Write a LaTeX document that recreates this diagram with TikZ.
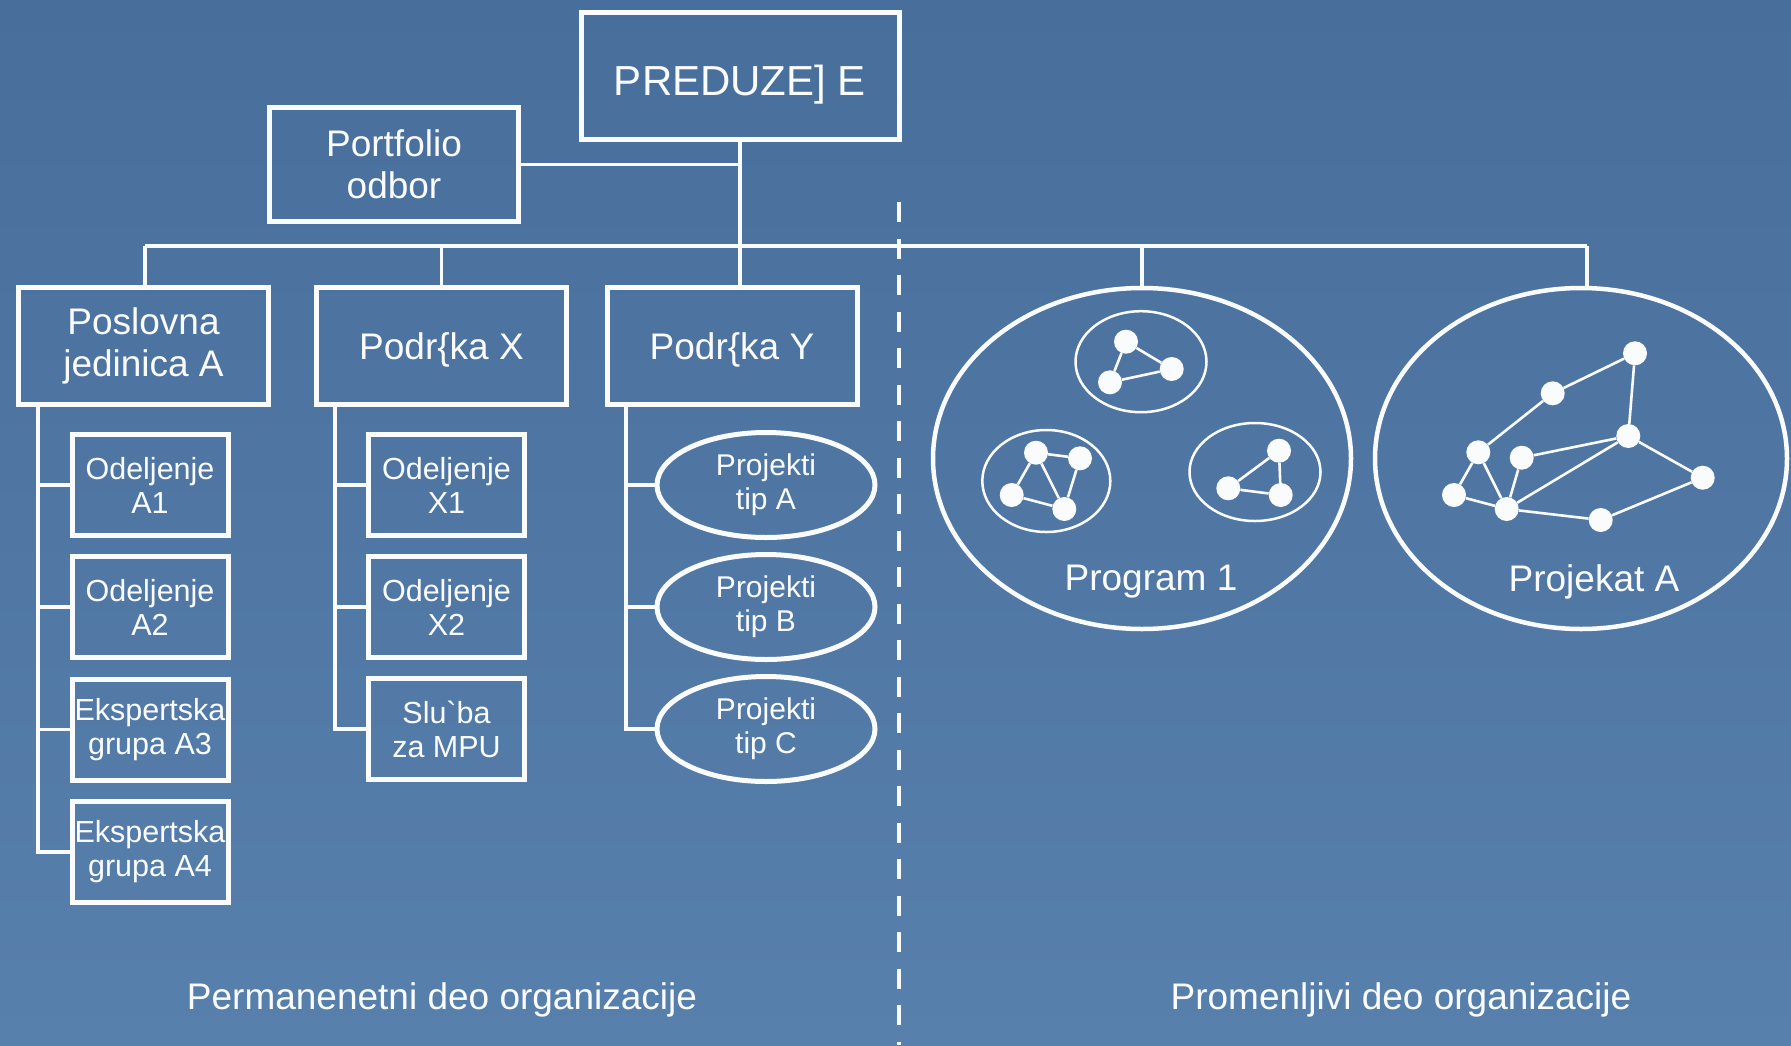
\documentclass[tikz,border=0pt]{standalone}
\usepackage{fontspec}
\setmainfont{Liberation Sans}
\usetikzlibrary{shapes.geometric}
\definecolor{bgtop}{RGB}{72,110,155}
\definecolor{bgbot}{RGB}{88,128,172}
\definecolor{ink}{RGB}{250,251,252}

\begin{document}
\begin{tikzpicture}[x=1pt,y=-1pt,
  every node/.style={text=ink, inner sep=0pt, align=center},
  box/.style={draw=ink, line width=5pt, rectangle},
  topbox/.style={box, minimum width=318pt, minimum height=127pt, font=\fontsize{42}{48}\selectfont},
  unitbox/.style={box, minimum width=250pt, minimum height=117pt, font=\fontsize{37}{42.5}\selectfont},
  subbox/.style={box, minimum width=156pt, minimum height=101pt, font=\fontsize{30.5}{34}\selectfont},
  projell/.style={draw=ink, line width=5pt, ellipse, minimum width=218pt, minimum height=105pt, font=\fontsize{30}{34}\selectfont},
  bigell/.style={draw=ink, line width=4.5pt, ellipse, minimum height=341pt},
  cluster/.style={draw=ink, line width=2.5pt, ellipse},
  dot/.style={circle, fill=ink, minimum size=24pt},
  link/.style={draw=ink, line width=3.5pt},
  tie/.style={draw=ink, line width=2.6pt},
  caption/.style={font=\fontsize{37}{42}\selectfont},
]
% background
\useasboundingbox (0,0) rectangle (1791,1045);
\shade[top color=bgtop, bottom color=bgbot] (0,0) rectangle (1791,1045);

% top level
\node[topbox, text height=40pt, text depth=0pt] (top) at (740,75.5) {PREDUZE] E};
\node[unitbox, minimum width=249pt, minimum height=114pt] (port) at (394,164.5) {Portfolio\\odbor};

% permanent units
\node[unitbox] (pa) at (143.5,346) {Poslovna\\jedinica A};
\node[unitbox, text depth=0pt] (px) at (441.5,346) {Podr\{ka X};
\node[unitbox, text depth=0pt] (py) at (732,346) {Podr\{ka Y};

\node[subbox] (a1) at (150,485) {Odeljenje\\A1};
\node[subbox] (a2) at (150,607) {Odeljenje\\A2};
\node[subbox] (a3) at (150,729.5) {Ekspertska\\grupa A3};
\node[subbox] (a4) at (150,852) {Ekspertska\\grupa A4};

\node[subbox] (x1) at (446.5,485) {Odeljenje\\X1};
\node[subbox] (x2) at (446.5,607) {Odeljenje\\X2};
\node[subbox] (x3) at (446.5,729) {Slu\textasciigrave{}ba\\za MPU};

\node[projell] (t1) at (766,485) {Projekti\\tip A};
\node[projell] (t2) at (766,607) {Projekti\\tip B};
\node[projell] (t3) at (766,729) {Projekti\\tip C};

% temporary units
\node[bigell, minimum width=418pt] (prog) at (1142,458.5) {};
\node[bigell, minimum width=412pt] (proj) at (1581,458.5) {};
\node[caption] (progl) at (1151,582) {Program 1};
\node[caption] (projl) at (1594,582) {Projekat A};

% connectors
\coordinate (busL) at (145,246);
\coordinate (busR) at (1587,246);
\coordinate (sa) at (38,0);
\coordinate (sx) at (335,0);
\coordinate (sy) at (626,0);

\draw[link] (busL) -- (busR);
\draw[link] (busL) -- (busL |- pa.north);
\draw[link] (px.north) -- (px.north |- busL);
\draw[link] (top.south) -- (top.south |- py.north);
\draw[link] (prog.north) -- (prog.north |- busL);
\draw[link] (busR) -- (busR |- proj.north);
\draw[link] (port.east) -- (port.east -| top.south);

\draw[link] (sa |- pa.south) -- (sa |- a4.west) -- (a4.west);
\foreach \n in {a1,a2,a3} \draw[link] (sa |- \n.west) -- (\n.west);
\draw[link] (sx |- px.south) -- (sx |- x3.west) -- (x3.west);
\foreach \n in {x1,x2} \draw[link] (sx |- \n.west) -- (\n.west);
\draw[link] (sy |- py.south) -- (sy |- t3.west) -- (t3.west);
\foreach \n in {t1,t2} \draw[link] (sy |- \n.west) -- (\n.west);

% divider
\coordinate (dtop) at (899,202);
\coordinate (dbot) at (899,1045);
\draw[ink, line width=4pt, dash pattern=on 20pt off 16.5pt] (dtop) -- (dbot);

% program: three small project networks
\node[cluster, minimum width=131pt, minimum height=101pt] (c1) at (1141,361.7) {};
\node[cluster, minimum width=128pt, minimum height=102pt] (c2) at (1046.3,481) {};
\node[cluster, minimum width=131pt, minimum height=98pt] (c3) at (1255,472) {};

\node[dot] (d11) at (1126,341.7) {};
\node[dot] (d12) at (1171.7,369) {};
\node[dot] (d13) at (1110,382.3) {};
\draw[tie] (d11) -- (d12) (d11) -- (d13) (d13) -- (d12);

\node[dot] (d21) at (1036,452.7) {};
\node[dot] (d22) at (1080,458.3) {};
\node[dot] (d23) at (1011.7,495) {};
\node[dot] (d24) at (1064.3,509) {};
\draw[tie] (d21) -- (d22) (d21) -- (d23) (d21) -- (d24) (d22) -- (d24) (d23) -- (d24);

\node[dot] (d31) at (1279,450.7) {};
\node[dot] (d32) at (1228.3,488.3) {};
\node[dot] (d33) at (1280.7,495) {};
\draw[tie] (d31) -- (d32) (d31) -- (d33) (d32) -- (d33);

% single project network
\node[dot] (p1) at (1635,353.3) {};
\node[dot] (p2) at (1552.7,393.3) {};
\node[dot] (p3) at (1628.3,436) {};
\node[dot] (p4) at (1478.3,452.3) {};
\node[dot] (p5) at (1521.7,457.7) {};
\node[dot] (p6) at (1702.7,477.7) {};
\node[dot] (p7) at (1454,495) {};
\node[dot] (p8) at (1506.7,509) {};
\node[dot] (p9) at (1600.7,520) {};
\draw[tie] (p1) -- (p2) (p1) -- (p3) (p2) -- (p4) (p5) -- (p3) (p3) -- (p6)
  (p3) -- (p8) (p6) -- (p9) (p9) -- (p8) (p8) -- (p7) (p7) -- (p4)
  (p4) -- (p8) (p5) -- (p8);

% captions
\node[caption] (capl) at (442,1000) {Permanenetni deo organizacije};
\node[caption] (capr) at (1401,1000) {Promenljivi deo organizacije};
\end{tikzpicture}
\end{document}
